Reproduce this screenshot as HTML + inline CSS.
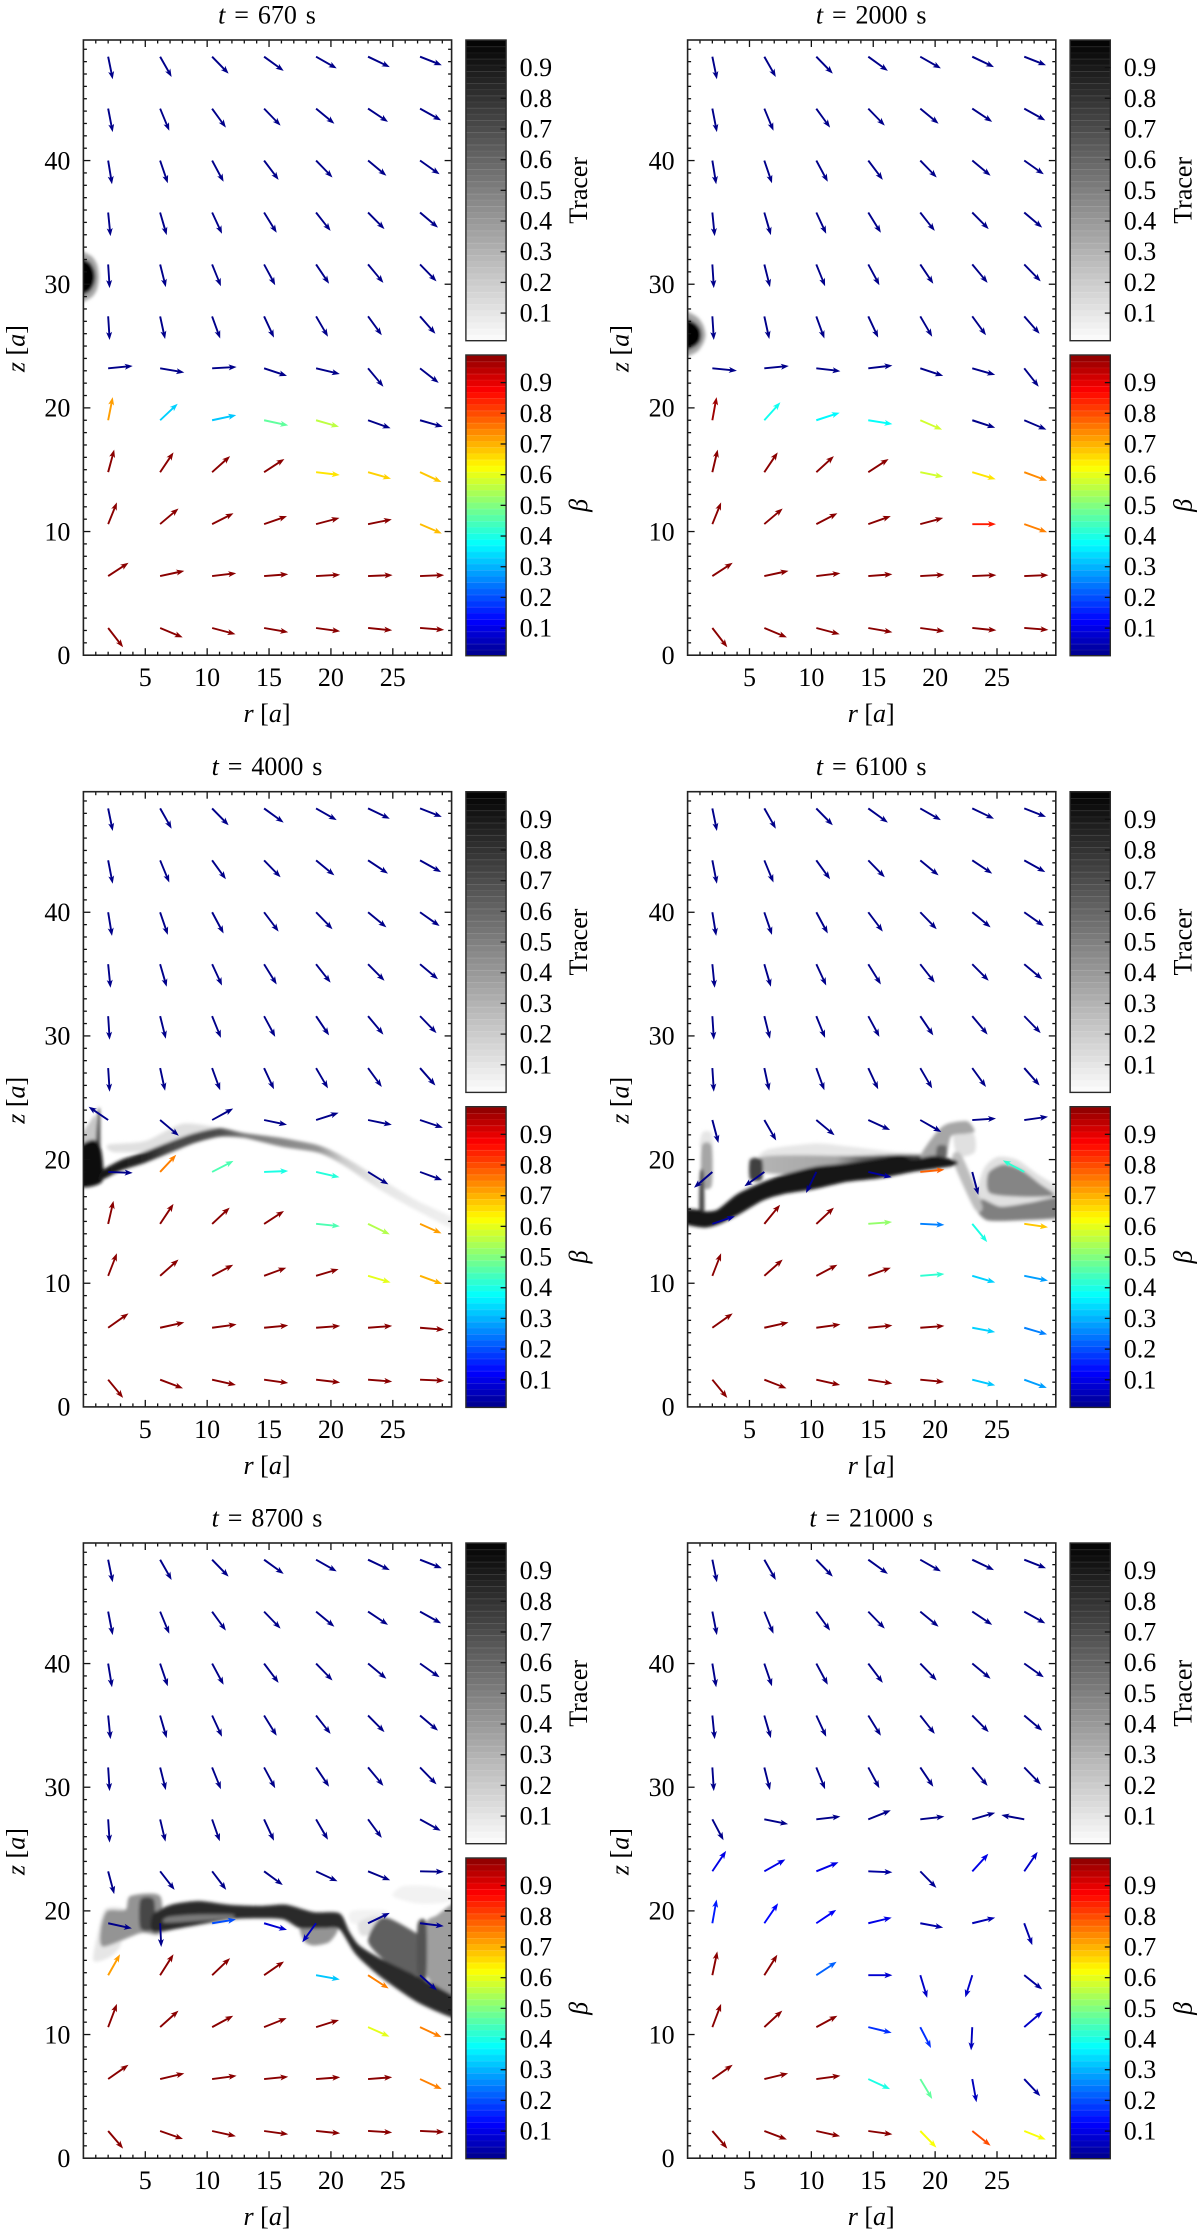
<!DOCTYPE html>
<html lang="en">
<head>
<meta charset="utf-8">
<title>Tracer and beta evolution panels</title>
<style>
html,body{margin:0;padding:0;background:#fff;}
svg{display:block;}
text{font-family:"Liberation Serif",serif;fill:#000;}
</style>
</head>
<body>
<svg id="figure" xmlns="http://www.w3.org/2000/svg" width="1200" height="2234" viewBox="0 0 1200 2234">
<defs>
<filter id="soft" x="-10%" y="-10%" width="120%" height="120%"><feGaussianBlur stdDeviation="1.7"/></filter>
</defs>
</svg>
<script>
// ---- Data: sampling grid, axis range ----
const colR = [2, 6.2, 10.4, 14.6, 18.8, 23, 27.2];
const rowZ = [48.4, 44.2, 40, 35.8, 31.6, 27.4, 23.2, 19, 14.8, 10.6, 6.4, 2.2];
const xTickLabels = [5, 10, 15, 20, 25];
const yTickLabels = [0, 10, 20, 30, 40];
const barTickLabels = [0.1, 0.2, 0.3, 0.4, 0.5, 0.6, 0.7, 0.8, 0.9];
const panelTimes = ["670", "2000", "4000", "6100", "8700", "21000"];

// ---- Velocity components, rows z = 48.4 to 31.6 (same in every panel) ----
const upperU = [
 [.37,.93,1.33,1.58,1.67,1.76,1.76],
 [.37,.74,1.11,1.33,1.48,1.61,1.70],
 [.31,.62,.93,1.17,1.33,1.48,1.58],
 [.19,.53,.80,1.02,1.17,1.33,1.45],
 [.12,.46,.71,.90,1.05,1.24,1.33]];
const upperV = [
 [-1.83,-1.64,-1.37,-1.15,-.95,-.84,-.69],
 [-1.90,-1.79,-1.53,-1.37,-1.22,-1.07,-.95],
 [-1.91,-1.83,-1.72,-1.56,-1.37,-1.22,-1.11],
 [-1.91,-1.83,-1.72,-1.64,-1.49,-1.34,-1.22],
 [-1.91,-1.83,-1.76,-1.68,-1.56,-1.49,-1.37]];
const upperBeta = 0.01;

// ---- Velocity components and beta, rows z = 27.4 to 2.2 ----
const panel1U = [
 [.12,.40,.65,.80,.96,1.11,1.24],
 [1.98,1.95,1.98,1.85,1.92,1.24,1.51],
 [.37,1.42,1.95,1.95,1.85,1.82,1.85],
 [.49,1.08,1.45,1.64,1.92,1.85,1.73],
 [.71,1.48,1.73,1.85,1.89,1.92,1.76],
 [1.64,1.95,1.95,1.95,1.95,1.98,1.95],
 [1.21,1.82,1.89,1.95,1.95,1.95,1.95]];
const panel1V = [
 [-1.91,-1.83,-1.79,-1.72,-1.64,-1.53,-1.41],
 [.19,-.34,.11,-.61,-.46,-1.49,-1.18],
 [1.87,1.34,.42,-.42,-.53,-.65,-.53],
 [1.83,1.60,1.30,1.07,-.23,-.53,-.80],
 [1.76,1.26,.88,.65,.50,.38,-.76],
 [1.07,.42,.23,.15,.11,.08,.08],
 [-1.56,-.76,-.50,-.34,-.27,-.19,-.15]];
const panel1Beta = [
 [.01,.01,.01,.01,.01,.01,.01],
 [.01,.01,.01,.01,.01,.01,.01],
 [.72,.33,.32,.47,.56,.01,.01],
 [.99,.99,.99,.99,.65,.67,.68],
 [.99,.99,.99,.99,.99,.99,.69],
 [.99,.99,.99,.99,.99,.99,.99],
 [.99,.99,.99,.99,.99,.99,.99]];

const panel2U = [
 [.12,.40,.65,.80,.96,1.11,1.24],
 [1.98,1.98,1.95,1.95,1.85,1.85,1.17],
 [.34,1.30,1.89,1.95,1.76,1.85,1.79],
 [.43,1.08,1.42,1.64,1.85,1.89,1.85],
 [.71,1.48,1.70,1.82,1.85,1.92,1.85],
 [1.64,1.95,1.95,1.95,1.95,1.95,1.95],
 [1.21,1.82,1.89,1.95,1.95,1.95,1.95]];
const panel2V = [
 [-1.91,-1.83,-1.79,-1.72,-1.64,-1.53,-1.41],
 [-.19,.19,-.23,.23,-.61,-.53,-1.49],
 [1.87,1.45,.61,-.31,-.76,-.61,-.76],
 [1.83,1.60,1.30,1.07,-.38,-.57,-.69],
 [1.76,1.26,.88,.65,.50,0,-.65],
 [1.07,.42,.23,.15,.11,.08,.08],
 [-1.56,-.76,-.50,-.34,-.27,-.19,-.15]];
const panel2Beta = [
 [.01,.01,.01,.01,.01,.01,.01],
 [.01,.01,.01,.01,.01,.01,.01],
 [.97,.39,.37,.38,.58,.01,.01],
 [.99,.99,.99,.99,.58,.65,.74],
 [.99,.99,.99,.99,.99,.85,.75],
 [.99,.99,.99,.99,.99,.99,.99],
 [.99,.99,.99,.99,.99,.99,.99]];

const panel3U = [
 [.12,.40,.65,.80,.96,1.11,1.24],
 [-1.58,1.51,1.70,1.85,1.82,1.92,1.85],
 [1.98,1.30,1.73,1.95,1.89,1.64,1.79],
 [.43,1.08,1.42,1.61,1.92,1.76,1.73],
 [.71,1.48,1.70,1.79,1.82,1.82,1.79],
 [1.64,1.95,1.98,1.95,1.95,1.95,1.95],
 [1.21,1.85,1.92,1.95,1.95,1.95,1.95]];
const panel3V = [
 [-1.91,-1.83,-1.79,-1.72,-1.64,-1.53,-1.41],
 [1.08,-1.28,.93,-.39,.58,-.39,-.62],
 [-.08,1.39,.89,.08,-.43,-1.01,-.66],
 [1.86,1.62,1.32,1.04,-.19,-.85,-.77],
 [1.82,1.32,.89,.66,.54,-.54,-.66],
 [1.16,.43,.27,.19,.15,.15,-.15],
 [-1.47,-.70,-.43,-.27,-.23,-.15,-.08]];
const panel3Beta = [
 [.01,.01,.01,.01,.01,.01,.01],
 [.01,.01,.01,.01,.01,.01,.01],
 [.01,.75,.45,.40,.41,.01,.01],
 [.99,.99,.99,.99,.45,.55,.72],
 [.99,.99,.99,.99,.99,.60,.70],
 [.99,.99,.99,.99,.99,.99,.99],
 [.99,.99,.99,.99,.99,.99,.99]];

const panel4U = [
 [.12,.40,.65,.80,.96,1.11,1.24],
 [.49,.96,1.48,1.76,1.70,1.92,1.92],
 [-1.48,-1.61,-.83,1.89,1.95,.49,-1.73],
 [1.82,1.27,1.42,1.92,1.95,1.21,1.92],
 [.71,1.48,1.70,1.82,1.95,1.85,1.92],
 [1.64,1.95,1.95,1.95,1.95,1.85,1.85],
 [1.21,1.79,1.92,1.95,1.92,1.85,1.82]];
const panel4V = [
 [-1.91,-1.83,-1.79,-1.72,-1.64,-1.53,-1.41],
 [-1.86,-1.66,-1.24,-.81,-.97,.12,.27],
 [-1.28,-1.16,-1.70,-.43,.19,-1.86,.93],
 [.62,1.55,1.32,.15,-.08,-1.47,-.27],
 [1.82,1.32,.89,.66,.15,-.54,-.39],
 [1.16,.43,.27,.19,.15,-.35,-.54],
 [-1.47,-.70,-.43,-.31,-.19,-.46,-.66]];
const panel4Beta = [
 [.01,.01,.01,.01,.01,.01,.01],
 [.01,.01,.01,.01,.01,.01,.01],
 [.01,.01,.01,.03,.78,.01,.42],
 [.03,.99,.99,.52,.25,.40,.68],
 [.99,.99,.99,.99,.42,.33,.28],
 [.99,.99,.99,.99,.99,.33,.25],
 [.99,.99,.99,.99,.99,.32,.28]];

const panel5U = [
 [.12,.43,.62,.80,.96,1.11,1.67],
 [.49,1.17,1.14,1.51,1.73,1.79,1.92],
 [1.92,.09,1.92,1.85,-1.11,1.76,1.92],
 [.96,1.08,1.45,1.61,1.92,1.67,1.36],
 [.71,1.48,1.70,1.82,1.85,1.73,1.73],
 [1.64,1.95,1.98,1.95,1.95,1.95,1.76],
 [1.21,1.85,1.92,1.95,1.95,1.95,1.95]];
const panel5V = [
 [-1.88,-1.80,-1.77,-1.73,-1.65,-1.50,-.92],
 [-1.84,-1.50,-1.50,-1.11,-.81,-.73,-.04],
 [-.42,-1.92,.31,-.54,-1.54,.84,-.23],
 [1.69,1.69,1.38,1.11,-.35,-1.08,-1.23],
 [1.88,1.34,.92,.73,.58,-.77,-.81],
 [1.15,.46,.27,.19,.15,.15,-.81],
 [-1.42,-.65,-.42,-.27,-.19,-.12,-.08]];
const panel5Beta = [
 [.01,.01,.01,.01,.01,.01,.01],
 [.01,.01,.01,.01,.01,.01,.01],
 [.01,.01,.20,.08,.06,.02,.02],
 [.72,.99,.99,.99,.32,.75,.02],
 [.99,.99,.99,.99,.99,.60,.75],
 [.99,.99,.99,.99,.99,.99,.75],
 [.99,.99,.99,.99,.99,.99,.99]];

const panel6U = [
 [.90,1.92,1.95,1.82,1.95,1.85,-1.85],
 [1.11,1.70,1.79,1.95,1.30,1.30,1.08],
 [.34,1.11,1.61,1.89,1.85,1.85,.65],
 [.40,1.05,1.64,1.95,.56,-.56,1.45],
 [.71,1.45,1.70,1.89,.87,-.09,1.48],
 [1.64,1.92,1.95,1.76,.96,.34,1.30],
 [1.21,1.82,1.92,1.95,1.30,1.48,1.73]];
const panel6V = [
 [-1.69,-.38,.23,.73,.23,.54,.35],
 [1.65,.96,.73,-.08,-1.34,1.42,1.57],
 [1.92,1.61,1.08,.46,-.35,.46,-1.77],
 [1.92,1.65,1.08,0,-1.84,-1.80,-1.15],
 [1.88,1.34,.92,-.46,-1.69,-1.88,1.27],
 [1.15,.46,.27,-.81,-1.61,-1.88,-1.38],
 [-1.42,-.69,-.42,-.27,-1.34,-1.19,-.69]];
const panel6Beta = [
 [.01,.01,.01,.01,.01,.01,.01],
 [.10,.10,.10,.03,.02,.10,.07],
 [.15,.13,.12,.10,.04,.05,.04],
 [.99,.99,.22,.08,.07,.07,.03],
 [.99,.99,.99,.17,.17,.06,.07],
 [.99,.99,.99,.40,.47,.06,.03],
 [.99,.99,.99,.99,.62,.80,.62]];

// ---- Tracer regions: fraction v (or stops [r, v] along r) + outline in axis units [r, z] ----
const panel1Tracer = [
 {v:.35,o:[[-.5,28.7],[.6,28.9],[1.1,29.6],[1.25,30.6],[1.1,31.6],[.6,32.3],[-.5,32.5]]},
 {v:1,o:[[-.5,29.2],[.45,29.4],[.85,30],[.95,30.6],[.85,31.2],[.45,31.8],[-.5,32]]}];
const panel2Tracer = [
 {v:.35,o:[[-.5,24.3],[.7,24.5],[1.25,25.2],[1.45,25.9],[1.25,26.7],[.7,27.4],[-.5,27.7]]},
 {v:1,o:[[-.5,24.7],[.55,24.95],[1,25.4],[1.1,25.9],[1,26.4],[.55,26.9],[-.5,27.2]]}];
const panel3Tracer = [
 {v:.22,o:[[-.5,20.5],[1,20.5],[1,23.5],[.5,23],[-.5,21.5]]},
 {v:.12,o:[[2,21.2],[2.5,20.6],[6,20.8],[9,22.1],[11,22.5],[8,22.9],[5,21.5]]},
 {v:.7,o:[[.95,19.5],[1.35,19.5],[1.35,23.8],[1.15,23.8]]},
 {v:.95,o:[[-.5,17.9],[1.5,18.2],[1.45,20.7],[.8,21.6],[-.5,20.8]]},
 {stops:[[1,.92],[5,.85],[7,.72],[11,.7],[13,.52],[19,.42],[21,.2],[24,.1],[30,.06]],
  o:[[1.3,18.3],[3,19.1],[5,19.75],[7,20.55],[9,21.35],[11,21.85],[13,21.75],[16,21.05],[19,20.55],[21,19.55],[24,17.55],[27,15.85],[30.5,14.1],[30.5,15],[27,16.65],[24,18.45],[21,20.25],[19,21.15],[16,21.75],[13,22.15],[11,22.55],[9,22.15],[7,21.45],[5,20.65],[3,19.95],[1.5,19.1]]}];
const panel4Tracer = [
 {v:.1,o:[[6,19.8],[6.4,20.8],[10.2,21.3],[12.7,21.1],[17,20.6],[20,20.4],[20,19.5],[12,19.5]]},
 {stops:[[6,.3],[12,.35],[14,.6],[18,.75],[20,.7]],o:[[6,19],[6,20.2],[9,20.35],[12,20.3],[14,20.3],[17,20.4],[20,20.3],[20,19.6],[14,19.2],[9,18.8]]},
 {v:.1,o:[[1,21],[1.2,22.2],[1.9,22.2],[2,21]]},
 {v:.35,o:[[1.14,17.9],[1.14,21.1],[1.95,21.1],[1.95,17.9]]},
 {v:.72,o:[[.95,15],[1.35,15],[1.3,18.9],[1,18.9]]},
 {v:.75,o:[[5.05,18.4],[6,18.4],[6,20],[5.05,20]]},
 {v:.12,o:[[23.4,16.6],[23.9,19.2],[25,20.2],[26.6,20],[28.3,18.8],[30.5,17.3],[30.5,15.5],[26,15.5]]},
 {v:.48,o:[[24.4,17.3],[24.3,18.9],[25.5,19.6],[26.9,19.2],[28.5,18],[29.6,17.1],[27,17]]},
 {v:.5,o:[[23.2,16.2],[24.2,15.1],[27,15.1],[30.5,15.4],[30.5,17],[27.6,16.5],[25.3,16.2],[23.8,16.8]]},
 {v:.12,o:[[21.5,22.3],[23.1,22.1],[23.2,20.6],[21.8,20.3]]},
 {v:.35,o:[[18.8,20.2],[20.1,22.2],[21,22.9],[22.6,23.1],[23.2,22.3],[22.5,22.1],[21.3,21.9],[20.8,20.4]]},
 {v:.6,o:[[20.1,20.2],[20.2,21.1],[20.9,21.1],[20.9,20.2]]},
 {v:.26,o:[[21.4,20],[22.1,20.4],[23.8,16.3],[23.2,16]]},
 {v:.93,o:[[-.5,14.9],[1.3,14.5],[2.6,14.8],[4.2,15.6],[6.1,16.7],[7.7,17.2],[10.2,17.6],[12.9,18.2],[15.6,18.5],[18.2,19],[21.5,19.5],[21.7,19.9],[19.9,20.3],[18.2,20],[17.2,20.4],[15.6,20.1],[12.9,19.7],[10.2,19.4],[7.5,18.7],[5.9,18.1],[4,17.2],[2.4,15.95],[1.3,15.8],[.87,15.95],[-.5,15.95]]}];
const panel5Tracer = [
 {v:.05,o:[[21.7,19],[24,19],[24.5,20],[21.7,20]]},
 {v:.05,o:[[25,21.2],[27,20.6],[29.3,20.7],[30.5,21.4],[28,22],[25.8,22]]},
 {v:.12,o:[[22.2,19],[23.5,19.6],[24.5,19.3],[24,18.3],[22.5,18]]},
 {v:.1,o:[[.8,16],[1.2,18.4],[1.8,20.2],[3.5,20],[3,17.2],[2,16.2]]},
 {v:.42,o:[[1.9,20],[3.4,20.1],[3.8,21.2],[6.2,21.2],[6.2,18.2],[4.6,18.2],[1.6,17.1],[1.4,18.5]]},
 {v:.72,o:[[4.6,18.6],[5.7,18.6],[5.7,20.9],[4.6,20.9]]},
 {v:.42,o:[[17.6,18.9],[20.5,18.7],[19.9,17.5],[18.6,17.2],[17.8,17.6]]},
 {v:.38,o:[[27.6,16],[27.7,19],[28.5,19.6],[30.5,20.4],[30.5,12.8],[28.6,13.6],[27.6,15]]},
 {v:.62,o:[[24.2,19.5],[26.9,18.2],[27.5,17.6],[27.5,14.8],[25,15.5],[23,17.5]]},
 {v:.68,o:[[27,14.6],[27.7,14.6],[27.7,19],[27,18.9]]},
 {v:.84,o:[[5.6,19.7],[7.1,20.5],[9.3,20.8],[11.8,20.5],[14.3,20.4],[16.4,20.5],[18.6,19.9],[20.7,19.8],[21.5,18.3],[22.3,17.2],[24.1,16.1],[27.2,14.6],[30.5,12.7],[30.5,11.2],[27.2,12.5],[24.1,14.6],[22,16.5],[20.7,18.5],[19.5,18.6],[17.5,18.6],[16.2,19.3],[14.3,19.4],[11.8,19.3],[7.8,18.6],[5.6,18.3]]},
 {v:.52,o:[[6.6,19.05],[10,19.25],[12,19.45],[12,19.7],[9,19.7],[6.8,19.5]]}];
const panel6Tracer = [];

// ---- Assembled series per panel ----
const seriesU = [panel1U, panel2U, panel3U, panel4U, panel5U, panel6U];
const seriesV = [panel1V, panel2V, panel3V, panel4V, panel5V, panel6V];
const seriesBeta = [panel1Beta, panel2Beta, panel3Beta, panel4Beta, panel5Beta, panel6Beta];
const seriesTracer = [panel1Tracer, panel2Tracer, panel3Tracer, panel4Tracer, panel5Tracer, panel6Tracer];

// ---- Layout (separate from data) ----
const NS = "http://www.w3.org/2000/svg";
const root = document.getElementById("figure");
const defs = root.querySelector("defs");
const colLeft = [83.4, 687.6];
const rowTop = [40, 791.7, 1543];
const plotW = 368.2, plotH = 615.2;
const rMax = 29.75, zMax = 49.75;
const barOffset = 382.5, barW = 40.2, barH = 300.7, betaGap = 315;
const barMin = 0.01, barMax = 0.99, bandCount = 49;
let gradCount = 0;

function mk(tag, attrs, parent) {
  const e = document.createElementNS(NS, tag);
  for (const k in attrs) e.setAttribute(k, attrs[k]);
  parent.appendChild(e);
  return e;
}
function jet(v) {
  const c = x => Math.round(255 * Math.max(0, Math.min(1, x)));
  const r = 1.5 - Math.abs(4 * v - 3);
  const g = 1.5 - Math.abs(4 * v - 2);
  const b = 1.5 - Math.abs(4 * v - 1);
  return "rgb(" + c(r) + "," + c(g) + "," + c(b) + ")";
}
function gray(v) {
  const g = Math.round(255 * (1 - v));
  return "rgb(" + g + "," + g + "," + g + ")";
}
function arrowPoints(x1, y1, x2, y2) {
  const L = Math.hypot(x2 - x1, y2 - y1) || 1;
  const ux = (x2 - x1) / L, uy = (y2 - y1) / L, px = -uy, py = ux;
  const hl = 8, hw = 3, sw = 0.95, notch = 6.6;
  const bx = x2 - ux * notch, by = y2 - uy * notch;
  const wx = x2 - ux * hl, wy = y2 - uy * hl;
  const pts = [
    [x1 + px * sw, y1 + py * sw], [bx + px * sw, by + py * sw],
    [wx + px * hw, wy + py * hw], [x2, y2],
    [wx - px * hw, wy - py * hw], [bx - px * sw, by - py * sw],
    [x1 - px * sw, y1 - py * sw]];
  return pts.map(p => p[0].toFixed(1) + "," + p[1].toFixed(1)).join(" ");
}
// closed smooth outline through the given screen points
function smoothPath(pts) {
  const n = pts.length, f = 1 / 8;
  let d = "M" + pts[0][0].toFixed(1) + " " + pts[0][1].toFixed(1);
  for (let i = 0; i < n; i++) {
    const p0 = pts[(i - 1 + n) % n], p1 = pts[i], p2 = pts[(i + 1) % n], p3 = pts[(i + 2) % n];
    const c1x = p1[0] + (p2[0] - p0[0]) * f, c1y = p1[1] + (p2[1] - p0[1]) * f;
    const c2x = p2[0] - (p3[0] - p1[0]) * f, c2y = p2[1] - (p3[1] - p1[1]) * f;
    d += "C" + c1x.toFixed(1) + " " + c1y.toFixed(1) + " " + c2x.toFixed(1) + " " + c2y.toFixed(1) + " " + p2[0].toFixed(1) + " " + p2[1].toFixed(1);
  }
  return d + "Z";
}

function drawBar(parent, x0, top, colorFn, labelText, italicLabel, barName) {
  const g = mk("g", {}, parent);
  
  
  const sy = v => top + barH - (v - barMin) / (barMax - barMin) * barH;
  for (let i = 0; i < bandCount; i++) {
    const v0 = barMin + (barMax - barMin) * i / bandCount;
    const v1 = barMin + (barMax - barMin) * (i + 1) / bandCount;
    const band = mk("rect", {x: x0, y: sy(v1).toFixed(2), width: barW, height: (sy(v0) - sy(v1) + 0.3).toFixed(2), fill: colorFn((v0 + v1) / 2)}, g);
    
    
    const sep = mk("rect", {x: x0, y: sy(v1).toFixed(2), width: barW, height: 1, fill: "#fff", "fill-opacity": i % 2 ? 0.16 : 0.07}, g);
    
    
  }
  const frame = mk("rect", {x: x0, y: top, width: barW, height: barH, fill: "none", stroke: "#2a2a2a", "stroke-width": 1.4}, g);
  
  
  barTickLabels.forEach(t => {
    const y = sy(t);
    const tick = mk("line", {x1: x0 + barW - 5.5, x2: x0 + barW, y1: y, y2: y, stroke: "#111", "stroke-width": 1.3}, g);
    
    
    const lab = mk("text", {x: x0 + barW + 13.5, y: y + 8.5, "font-size": 26}, g);
    lab.textContent = t.toFixed(1);
    
    
  });
  const cx = x0 + barW + 81, cy = top + barH / 2;
  const title = mk("text", {x: cx, y: cy, "font-size": 26, "text-anchor": "middle", transform: "rotate(-90 " + cx + " " + cy + ")"}, g);
  if (italicLabel) title.setAttribute("font-style", "italic");
  title.textContent = labelText;
  
  
}

seriesU.forEach((panelU, p) => {
  const x0 = colLeft[p % 2], top = rowTop[Math.floor(p / 2)], bottom = top + plotH;
  const xOf = r => x0 + r / rMax * plotW;
  const yOf = z => bottom - z / zMax * plotH;
  const panel = mk("g", {}, root);
  
  

  // title
  const cxTitle = x0 + plotW / 2 - 0.5;
  const title = mk("text", {x: cxTitle, y: top - 16.5, "font-size": 26, "text-anchor": "middle", "word-spacing": "2.4"}, panel);
  const tItalic = mk("tspan", {"font-style": "italic"}, title);
  tItalic.textContent = "t";
  const tRest = mk("tspan", {}, title);
  tRest.textContent = " = " + panelTimes[p] + " s";
  
  

  // tracer field
  const clip = mk("clipPath", {id: "clip" + p}, defs);
  mk("rect", {x: x0, y: top, width: plotW, height: plotH}, clip);
  const field = mk("g", {"clip-path": "url(#clip" + p + ")"}, panel);
  
  
  const fieldInner = mk("g", {filter: "url(#soft)"}, field);
  seriesTracer[p].forEach(region => {
    let fill;
    if (region.stops) {
      const id = "grad" + (gradCount++);
      const first = region.stops[0][0], last = region.stops[region.stops.length - 1][0];
      const grad = mk("linearGradient", {id: id, gradientUnits: "userSpaceOnUse", x1: xOf(first), x2: xOf(last), y1: 0, y2: 0}, defs);
      region.stops.forEach(s => {
        mk("stop", {offset: (s[0] - first) / (last - first), "stop-color": gray(s[1])}, grad);
      });
      fill = "url(#" + id + ")";
    } else {
      fill = gray(region.v);
    }
    const shape = mk("path", {d: smoothPath(region.o.map(q => [xOf(q[0]), yOf(q[1])])), fill: fill}, fieldInner);
    
    
  });

  // arrows
  const arrows = mk("g", {}, panel);
  
  
  rowZ.forEach((z, j) => {
    colR.forEach((r, i) => {
      const upper = j < upperU.length;
      const u = upper ? upperU[j][i] : panelU[j - upperU.length][i];
      const v = upper ? upperV[j][i] : seriesV[p][j - upperU.length][i];
      const b = upper ? upperBeta : seriesBeta[p][j - upperU.length][i];
      const arrow = mk("polygon", {points: arrowPoints(xOf(r), yOf(z), xOf(r + u), yOf(z + v)), fill: jet(b)}, arrows);
      
      
    });
  });

  // axes frame and ticks
  const axes = mk("g", {stroke: "#111", "stroke-width": 1.3}, panel);
  
  
  for (let r = 1; r < rMax; r++) {
    const major = r % 5 === 0, len = major ? 7 : 3.5, x = xOf(r);
    const t1 = mk("line", {x1: x, x2: x, y1: bottom, y2: bottom - len}, axes);
    
    
    const t2 = mk("line", {x1: x, x2: x, y1: top, y2: top + len}, axes);
    
    
  }
  for (let z = 1; z < zMax; z++) {
    const major = z % 10 === 0, len = major ? 7 : 3.5, y = yOf(z);
    const t1 = mk("line", {x1: x0, x2: x0 + len, y1: y, y2: y}, axes);
    
    
    const t2 = mk("line", {x1: x0 + plotW, x2: x0 + plotW - len, y1: y, y2: y}, axes);
    
    
  }
  const frame = mk("rect", {x: x0, y: top, width: plotW, height: plotH, fill: "none", stroke: "#222", "stroke-width": 1.6}, panel);
  
  

  // tick labels
  xTickLabels.forEach(t => {
    const lab = mk("text", {x: xOf(t), y: bottom + 31, "font-size": 26, "text-anchor": "middle"}, panel);
    lab.textContent = t;
    
    
  });
  yTickLabels.forEach(t => {
    const lab = mk("text", {x: x0 - 13, y: yOf(t) + 8.8, "font-size": 26, "text-anchor": "end"}, panel);
    lab.textContent = t;
    
    
  });

  // axis titles
  const xTitle = mk("text", {x: x0 + plotW / 2 - 0.5, y: bottom + 67, "font-size": 26, "text-anchor": "middle"}, panel);
  const xa = mk("tspan", {"font-style": "italic"}, xTitle); xa.textContent = "r";
  const xb = mk("tspan", {}, xTitle); xb.textContent = " [";
  const xc = mk("tspan", {"font-style": "italic"}, xTitle); xc.textContent = "a";
  const xd = mk("tspan", {}, xTitle); xd.textContent = "]";
  
  

  const yx = x0 - 59, yy = top + plotH / 2 + 1;
  const yTitle = mk("text", {x: yx, y: yy, "font-size": 26, "text-anchor": "middle", transform: "rotate(-90 " + yx + " " + yy + ")"}, panel);
  const ya = mk("tspan", {"font-style": "italic"}, yTitle); ya.textContent = "z";
  const yb = mk("tspan", {}, yTitle); yb.textContent = " [";
  const yc = mk("tspan", {"font-style": "italic"}, yTitle); yc.textContent = "a";
  const yd = mk("tspan", {}, yTitle); yd.textContent = "]";
  
  

  // colorbars
  drawBar(panel, x0 + barOffset, top, gray, "Tracer", false, "tracer-colorbar");
  drawBar(panel, x0 + barOffset, top + betaGap, jet, "\u03B2", true, "beta-colorbar");
});
</script>
</body>
</html>
